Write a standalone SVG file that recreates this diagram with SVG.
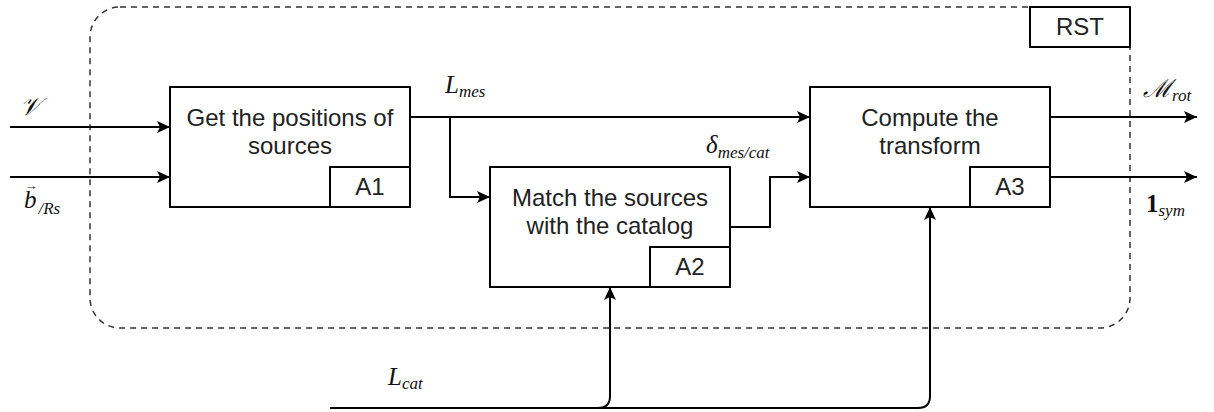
<svg xmlns="http://www.w3.org/2000/svg" width="1214" height="412" viewBox="0 0 1214 412">
<style>
.box{fill:#fff;stroke:#000;stroke-width:2}
.lbl{font-family:"Liberation Sans",Arial,sans-serif;font-size:24px;fill:#222;text-anchor:middle}
.m{font-family:"Liberation Serif","DejaVu Serif",serif;font-style:italic;font-size:25px;fill:#111}
.s{font-size:17px}
.c{fill:none;stroke:#000;stroke-width:2}
.dash{fill:none;stroke:#333;stroke-width:1.5;stroke-dasharray:6 5}
</style>
<defs>
<marker id="ah" markerUnits="userSpaceOnUse" markerWidth="14" markerHeight="12" refX="13" refY="6" orient="auto">
<path d="M0,0 L13,6 L0,12 L3,6 Z" fill="#000"/>
</marker>
</defs>
<g id="container">
<rect class="dash" x="90" y="7" width="1040" height="321" rx="30" ry="30"/>
</g>
<g id="rst">
<rect class="box" x="1030" y="7" width="100" height="40"/>
<text class="lbl" x="1080" y="35">RST</text>
</g>
<g id="A1">
<rect class="box" x="170" y="87" width="240" height="120"/>
<rect class="box" x="330" y="167" width="80" height="40"/>
<text class="lbl" x="290" y="126">Get the positions of</text>
<text class="lbl" x="290" y="154">sources</text>
<text class="lbl" x="370" y="195">A1</text>
</g>
<g id="A2">
<rect class="box" x="490" y="167" width="240" height="120"/>
<rect class="box" x="650" y="247" width="80" height="40"/>
<text class="lbl" x="610" y="206">Match the sources</text>
<text class="lbl" x="610" y="234">with the catalog</text>
<text class="lbl" x="690" y="275">A2</text>
</g>
<g id="A3">
<rect class="box" x="810" y="87" width="240" height="120"/>
<rect class="box" x="970" y="167" width="80" height="40"/>
<text class="lbl" x="930" y="126">Compute the</text>
<text class="lbl" x="930" y="154">transform</text>
<text class="lbl" x="1010" y="195">A3</text>
</g>
<g id="connectors">
<path class="c" d="M10,127 H170" marker-end="url(#ah)"/>
<path class="c" d="M10,177 H170" marker-end="url(#ah)"/>
<path class="c" d="M410,117 H810" marker-end="url(#ah)"/>
<path class="c" d="M450,117 V197 H490" marker-end="url(#ah)"/>
<path class="c" d="M730,227 H770 V177 H810" marker-end="url(#ah)"/>
<path class="c" d="M1050,117 H1197" marker-end="url(#ah)"/>
<path class="c" d="M1050,177 H1197" marker-end="url(#ah)"/>
<path class="c" d="M330,408 H598 Q610,408 610,396 V287" marker-end="url(#ah)"/>
<path class="c" d="M330,408 H918 Q930,408 930,396 V207" marker-end="url(#ah)"/>
</g>
<g id="labels">
<text class="m" x="20" y="115">𝒱</text>
<text class="m" x="24" y="208">b<tspan dx="-12" dy="-18" style="font-style:normal;font-size:13px">→</tspan><tspan class="s" dx="1" dy="24">/Rs</tspan></text>
<text class="m" x="445" y="93">L<tspan class="s" dy="4">mes</tspan></text>
<text class="m" x="706" y="153">δ<tspan class="s" dy="5">mes/cat</tspan></text>
<text class="m" x="1143" y="97">ℳ<tspan class="s" dy="4">rot</tspan></text>
<text class="m" x="1146" y="212"><tspan style="font-style:normal;font-weight:bold">1</tspan><tspan class="s" dy="4">sym</tspan></text>
<text class="m" x="388" y="385">L<tspan class="s" dy="4">cat</tspan></text>
</g>
</svg>
